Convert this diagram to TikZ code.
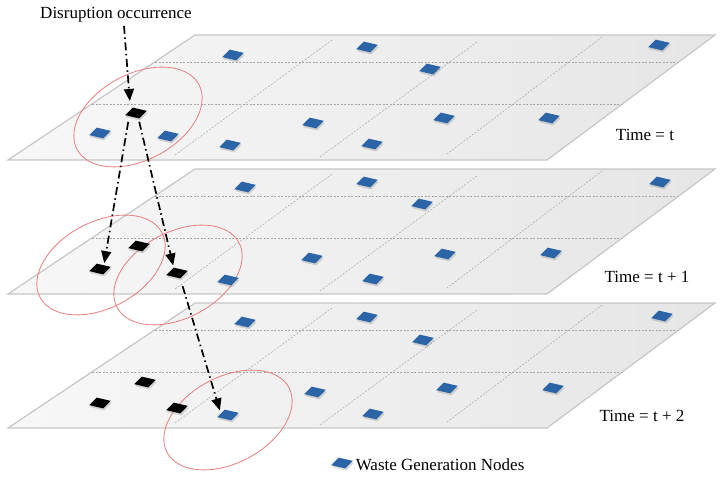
\documentclass[tikz,border=0pt]{standalone}
\usepackage{fontspec}
\setmainfont{Liberation Serif}
\usetikzlibrary{positioning,arrows.meta,shapes.geometric,shadows}
\definecolor{tileblue}{RGB}{44,100,168}
\definecolor{ringred}{RGB}{232,125,125}

\begin{document}
\begin{tikzpicture}[x=1pt, y=-1pt,
  font=\fontsize{17}{20}\selectfont,
  layer/.style={draw=gray!45, line width=1.2pt, left color=gray!6, right color=gray!20},
  gridline/.style={gray!70, dash pattern=on 2pt off 1.5pt, line width=0.5pt},
  tile/.style={rectangle, inner sep=0pt, minimum width=14.5pt, minimum height=9pt, rotate=-13, xslant=0.625,
    drop shadow={shadow xshift=0.8pt, shadow yshift=-2pt, opacity=0.3}},
  wgn/.style={tile, fill=tileblue},
  hit/.style={tile, fill=black},
  ring/.style={ellipse, draw=ringred, line width=0.8pt, minimum width=138pt, minimum height=86pt, rotate=28},
  spread/.style={line width=1.7pt, dash pattern=on 8pt off 3.5pt on 1.5pt off 3.5pt, -{Triangle[length=12pt,width=10pt]}}
]
\useasboundingbox (0,0) rectangle (722,479);

% the three time layers
\foreach \dy in {0,134,268} {
  \path[layer] (8,160+\dy) -- (547,160+\dy) -- (715,35+\dy) -- (195,35+\dy) -- cycle;
  \draw[gridline] (155,62+\dy) -- (678,62+\dy) (92,104+\dy) -- (622,104+\dy);
  \draw[gridline] (332,40+\dy) -- (175,155+\dy) (477,42+\dy) -- (320,157+\dy) (602,37+\dy) -- (447,154+\dy);
}

% affected areas
\node[ring] (r0) at (138,117) {};
\node[ring] (r1) at (101,265) {};
\node[ring] (r2) at (178,275) {};
\node[ring] (r3) at (228,420) {};

% waste generation nodes
\foreach \x/\y [count=\i] in {233/55, 367/47, 430/69, 659/45, 100/133, 168/136, 230/145, 313/123, 372/144, 444/118, 549/118}
  \node[wgn] (t\i) at (\x,\y) {};
\foreach \x/\y [count=\i] in {245/187, 367/182, 422/204, 660/182, 312/258, 373/279, 445/254, 551/253, 228/280}
  \node[wgn] (u\i) at (\x,\y) {};
\foreach \x/\y [count=\i] in {245/322, 367/317, 423/340, 662/316, 315/392, 447/388, 553/388, 373/414}
  \node[wgn] (v\i) at (\x,\y) {};
\node[wgn] (c2) at (228,415) {};

% disrupted nodes
\node[hit] (d0) at (136,113) {};
\node[hit] (a1) at (100,269) {};
\node[hit] (a2) at (139,246) {};
\node[hit] (b1) at (177,273) {};
\foreach \x/\y [count=\i] in {145/382, 100/403, 177/408}
  \node[hit] (h\i) at (\x,\y) {};

% labels
\node (cause) at (116,15) {Disruption occurrence};
\node (tt) at (645,135) {Time = t};
\node (tt1) at (647,277) {Time = t + 1};
\node (tt2) at (642,416) {Time = t + 2};
\node[wgn] (key) at (342,463) {};
\node[right=3pt of key] (keytext) {Waste Generation Nodes};

% spreading of the disruption
\draw[spread, shorten >=2pt] ([xshift=8pt]cause.south) -- ([shift={(-6pt,10pt)}]d0.center);
\draw[spread, shorten <=5pt, shorten >=2pt] ([xshift=-3pt]d0.south) -- (a1.north);
\draw[spread, shorten <=5pt, shorten >=2pt] ([xshift=6pt]d0.south) -- (b1.north west);
\draw[spread, shorten <=8pt, shorten >=3pt] (b1.south east) -- (c2.west);
\end{tikzpicture}
\end{document}
